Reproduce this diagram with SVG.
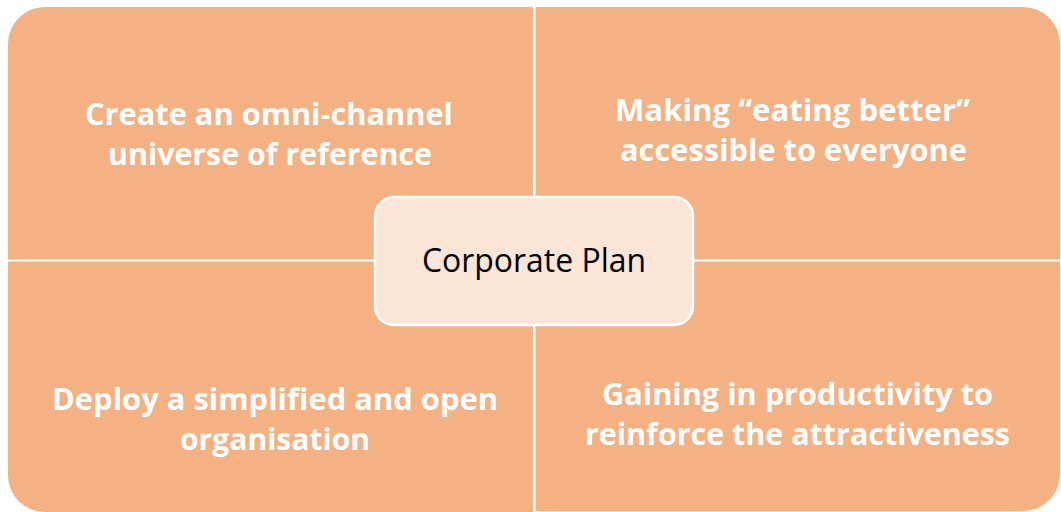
<svg xmlns="http://www.w3.org/2000/svg" width="1061" height="512" viewBox="0 0 1061 512">
<style>
.q{fill:#F4B183}
.qt{font-family:"Open Sans","Noto Sans",sans-serif;font-weight:700;font-size:31px;fill:#FFFFFF}
.ct{font-family:"Open Sans","Noto Sans",sans-serif;font-weight:400;font-size:32px;fill:#000000}
</style>
<rect width="1061" height="512" fill="#FFFFFF"/>
<g id="q-tl">
<path class="q" d="M8,44 A37,37 0 0 1 45,7 L533,7 L533,259.5 L8,259.5 Z"/>
<text class="qt" x="269" y="125" text-anchor="middle" textLength="368" lengthAdjust="spacingAndGlyphs">Create an omni-channel</text>
<text class="qt" x="270" y="165" text-anchor="middle" textLength="324" lengthAdjust="spacingAndGlyphs">universe of reference</text>
</g>
<g id="q-tr">
<path class="q" d="M535.5,7 L1023,7 A37,37 0 0 1 1060,44 L1060,259.5 L535.5,259.5 Z"/>
<text class="qt" x="792.5" y="120.5" text-anchor="middle" textLength="355" lengthAdjust="spacingAndGlyphs">Making “eating better”</text>
<text class="qt" x="793.5" y="160.5" text-anchor="middle" textLength="347" lengthAdjust="spacingAndGlyphs">accessible to everyone</text>
</g>
<g id="q-bl">
<path class="q" d="M8,261.5 L533,261.5 L533,512 L45,512 A37,37 0 0 1 8,475 Z"/>
<text class="qt" x="275" y="410" text-anchor="middle" textLength="446" lengthAdjust="spacingAndGlyphs">Deploy a simplified and open</text>
<text class="qt" x="275" y="450" text-anchor="middle" textLength="190" lengthAdjust="spacingAndGlyphs">organisation</text>
</g>
<g id="q-br">
<path class="q" d="M535.5,261.5 L1060,261.5 L1060,474 A37,37 0 0 1 1023,511 L535.5,511 Z"/>
<text class="qt" x="797.5" y="405" text-anchor="middle" textLength="391" lengthAdjust="spacingAndGlyphs">Gaining in productivity to</text>
<text class="qt" x="797.5" y="445" text-anchor="middle" textLength="425" lengthAdjust="spacingAndGlyphs">reinforce the attractiveness</text>
</g>
<g id="connectors"></g>
<g id="center">
<rect x="375" y="197" width="318" height="128" rx="19" ry="19" fill="#FBE5D6" stroke="#FFFFFF" stroke-width="2.5"/>
<text class="ct" x="534" y="271.5" text-anchor="middle" textLength="224" lengthAdjust="spacingAndGlyphs">Corporate Plan</text>
</g>
</svg>
